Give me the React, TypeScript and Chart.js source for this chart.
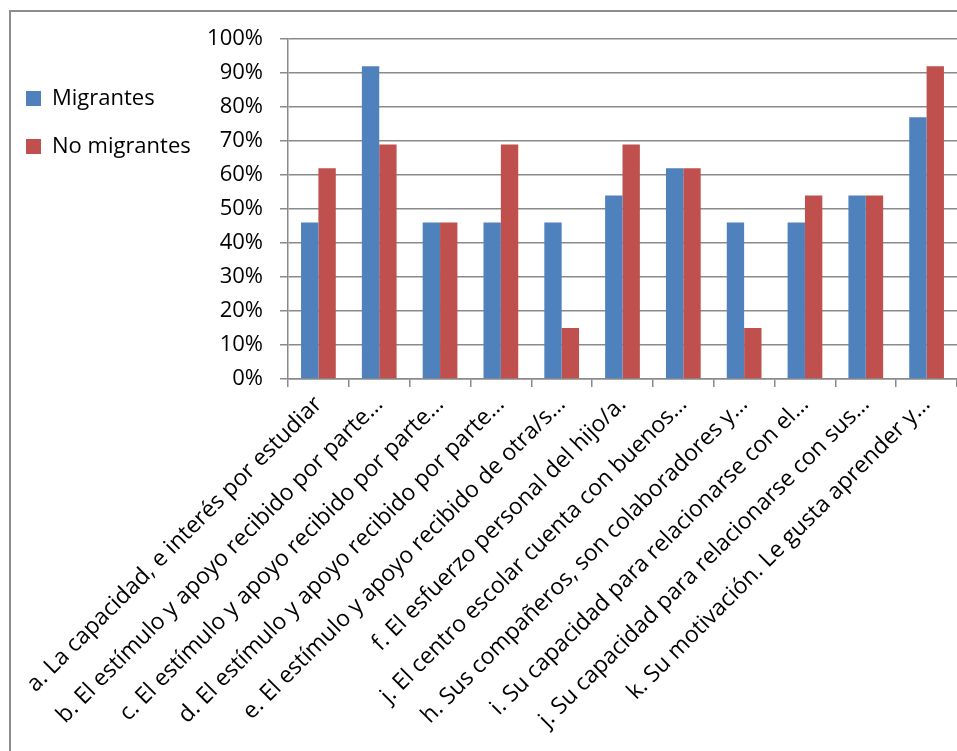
import React, { useEffect, useRef } from "react";
import { Chart, registerables } from "chart.js";

Chart.register(...registerables);

const categories: string[] = [
  "a. La capacidad, e interés por estudiar",
  "b. El estímulo y apoyo recibido por parte…",
  "c. El estímulo y apoyo recibido por parte…",
  "d. El estímulo y apoyo recibido por parte…",
  "e. El estímulo y apoyo recibido de otra/s…",
  "f. El esfuerzo personal del hijo/a.",
  "j. El centro escolar cuenta con buenos…",
  "h. Sus compañeros, son colaboradores y…",
  "i. Su capacidad para relacionarse con el…",
  "j. Su capacidad para relacionarse con sus…",
  "k. Su motivación. Le gusta aprender y…",
];

const migrantes: number[] = [46, 92, 46, 46, 46, 54, 62, 46, 46, 54, 77];
const noMigrantes: number[] = [62, 69, 46, 69, 15, 69, 62, 15, 54, 54, 92];

const seriesNames: string[] = ["Migrantes", "No migrantes"];
const yTickMin = 0;
const yTickMax = 100;
const yTickStep = 10;

const FONT = "'Open Sans', 'DejaVu Sans', sans-serif";
const GRID = "#8a8a8a";

const borderPlugin = {
  id: "outerBorder",
  beforeDraw(chart: any) {
    const ctx = chart.ctx;
    ctx.save();
    ctx.fillStyle = "#ffffff";
    ctx.fillRect(0, 0, chart.width, chart.height);
    ctx.strokeStyle = "#8c8c8c";
    ctx.lineWidth = 2;
    ctx.strokeRect(10, 11, chart.width + 50, chart.height + 50);
    ctx.restore();
  },
};

export default function App() {
  const ref = useRef<HTMLCanvasElement | null>(null);

  useEffect(() => {
    if (!ref.current) return;
    const chart = new Chart(ref.current, {
      type: "bar",
      data: {
        labels: categories,
        datasets: [
          {
            label: seriesNames[0],
            data: migrantes,
            backgroundColor: "#4F81BD",
            borderWidth: 0,
            categoryPercentage: 0.571,
            barPercentage: 1,
          },
          {
            label: seriesNames[1],
            data: noMigrantes,
            backgroundColor: "#C0504D",
            borderWidth: 0,
            categoryPercentage: 0.571,
            barPercentage: 1,
          },
        ],
      },
      options: {
        responsive: false,
        animation: false,
        layout: { padding: { top: 39, right: 0, bottom: 0, left: 0 } },
        plugins: {
          tooltip: { enabled: false },
          legend: {
            position: "left",
            align: "start",
            title: { display: true, text: "", padding: { top: 8, bottom: 0 } },
            labels: {
              boxWidth: 15,
              boxHeight: 15,
              padding: 26,
              color: "#000",
              font: { family: FONT, size: 22 },
            },
          },
        },
        scales: {
          x: {
            grid: {
              display: true,
              drawOnChartArea: false,
              drawTicks: true,
              tickLength: 8,
              color: GRID,
              lineWidth: 1.5,
              offset: true,
            },
            border: { display: true, color: GRID, width: 1.5 },
            ticks: {
              autoSkip: false,
              maxRotation: 45,
              minRotation: 45,
              padding: 4,
              color: "#000",
              font: { family: FONT, size: 23 },
            },
            afterFit: (s: any) => {
              s.height = 751 - 379;
            },
          },
          y: {
            min: yTickMin,
            max: yTickMax,
            ticks: {
              stepSize: yTickStep,
              padding: 17,
              color: "#000",
              font: { family: FONT, size: 22 },
              callback: (v: any) => v + "%",
            },
            grid: {
              color: GRID,
              lineWidth: 1.5,
              tickLength: 8,
            },
            border: { display: true, color: GRID, width: 1.5 },
            afterFit: (s: any) => {
              const lw = s.chart.legend ? s.chart.legend.width : 0;
              s.width = 288 - lw;
            },
          },
        },
      },
      plugins: [borderPlugin],
    });
    return () => chart.destroy();
  }, []);

  return (
    <div style={{ position: "fixed", left: 0, top: 0, width: 957, height: 751, overflow: "hidden" }}>
      <canvas ref={ref} width={957} height={751} style={{ width: 957, height: 751 }} />
    </div>
  );
}
